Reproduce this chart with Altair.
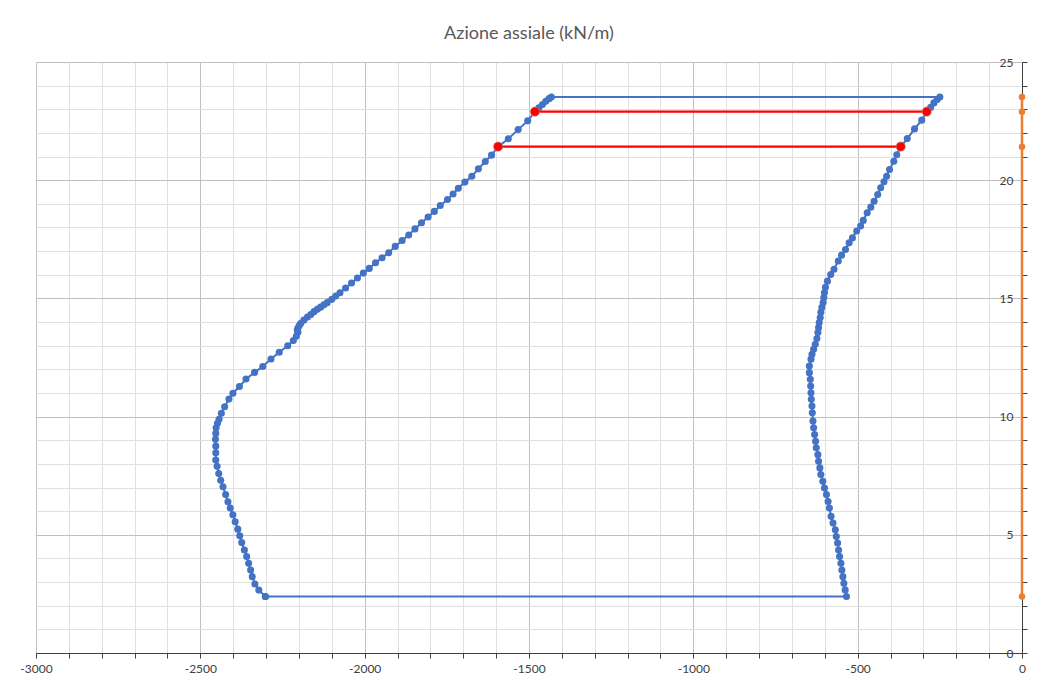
import altair as alt
import pandas as pd

# ---- data ----
# left branch (bottom -> top)
left_y = [2.39, 2.66, 2.92, 3.23, 3.51, 3.80, 4.08, 4.36, 4.67, 4.96, 5.24, 5.55, 5.85, 6.13,
          6.40, 6.70, 7.03, 7.31, 7.59, 7.90, 8.16, 8.47, 8.75, 9.04, 9.29, 9.53, 9.72, 9.89,
          10.14, 10.42, 10.74, 10.99, 11.27, 11.59, 11.87, 12.12, 12.44, 12.72, 13.00, 13.22,
          13.40, 13.57, 13.66, 13.75, 13.85, 13.94, 14.08, 14.21, 14.32, 14.44, 14.54, 14.63,
          14.73, 14.82, 14.96, 15.10, 15.24, 15.44, 15.65, 15.86, 16.07, 16.27, 16.51, 16.72,
          16.93, 17.20, 17.45, 17.68, 17.94, 18.20, 18.44, 18.68, 18.93, 19.18, 19.42, 19.66,
          19.92, 20.17, 20.48, 20.79, 21.06, 21.42, 21.75, 22.14, 22.51, 22.90, 23.06, 23.20,
          23.34, 23.45, 23.52]
left_x = [-2302, -2322, -2334, -2342, -2347, -2353, -2359, -2366, -2374, -2380, -2386, -2394,
          -2401, -2409, -2416, -2423, -2431, -2438, -2444, -2449, -2453, -2453, -2453, -2454,
          -2453, -2452, -2448, -2443, -2436, -2426, -2413, -2401, -2381, -2361, -2335, -2310,
          -2285, -2260, -2234, -2217, -2208, -2203, -2205, -2203, -2199, -2195, -2185, -2174,
          -2164, -2154, -2144, -2134, -2124, -2114, -2100, -2088, -2075, -2058, -2040, -2022,
          -2004, -1986, -1967, -1947, -1927, -1907, -1886, -1866, -1847, -1827, -1807, -1788,
          -1770, -1748, -1731, -1715, -1695, -1674, -1654, -1633, -1614, -1594, -1563, -1533,
          -1504, -1482, -1470, -1459, -1449, -1439, -1432]
# right branch (top -> bottom)
right_y = [23.52, 23.41, 23.27, 23.08, 22.90, 22.54, 22.17, 21.76, 21.42, 21.08, 20.80, 20.45,
           20.17, 19.93, 19.68, 19.39, 19.11, 18.86, 18.62, 18.30, 18.06, 17.85, 17.56, 17.35,
           17.07, 16.83, 16.58, 16.23, 16.01, 15.73, 15.47, 15.25, 15.04, 14.83, 14.62, 14.41,
           14.19, 13.98, 13.77, 13.56, 13.30, 13.06, 12.85, 12.64, 12.43, 12.14, 11.86, 11.58,
           11.29, 11.01, 10.73, 10.45, 10.16, 9.81, 9.53, 9.24, 8.96, 8.68, 8.39, 8.11, 7.83,
           7.55, 7.26, 6.98, 6.70, 6.41, 6.13, 5.78, 5.50, 5.21, 4.93, 4.65, 4.36, 4.08, 3.80,
           3.51, 3.23, 2.95, 2.67, 2.39]
right_x = [-250, -258, -268, -278, -290, -305, -327, -349, -369, -381, -390, -403, -412, -420,
           -430, -439, -450, -460, -471, -483, -491, -503, -516, -526, -537, -549, -559, -572,
           -582, -592, -598, -601, -603, -605, -609, -612, -614, -617, -619, -621, -624, -629,
           -634, -639, -642, -647, -647, -644, -643, -642, -641, -639, -638, -636, -634, -631,
           -628, -626, -621, -619, -615, -612, -606, -601, -595, -590, -586, -581, -575, -568,
           -565, -561, -558, -555, -551, -548, -545, -542, -538, -534]

red_top_x = [-1482, -290]
red_top_y = [22.90, 22.90]
red_low_x = [-1594, -369]
red_low_y = [21.42, 21.42]

orange_x = [0, 0, 0, 0]
orange_y = [2.39, 21.42, 22.90, 23.52]

x_ticks = list(range(-3000, 1, 100))
y_ticks = list(range(0, 26))

# ---- tables ----
blue_x = left_x + right_x + [left_x[0]]
blue_y = left_y + right_y + [left_y[0]]
blue_df = pd.DataFrame({"x": blue_x, "y": blue_y, "o": list(range(len(blue_x)))})
red_df = pd.DataFrame({
    "x": red_top_x + red_low_x,
    "y": red_top_y + red_low_y,
    "g": ["a"] * len(red_top_x) + ["b"] * len(red_low_x),
})
orange_df = pd.DataFrame({"x": orange_x, "y": orange_y, "o": list(range(len(orange_x)))})

FONT = "Lato"

x_axis = alt.Axis(
    values=x_ticks,
    labelExpr="datum.value % 500 === 0 ? '' + datum.value : ''",
    title=None,
    grid=True,
    gridColor={"condition": {"test": "datum.value % 500 === 0", "value": "#c0c0c0"}, "value": "#e0e0e0"},
    gridWidth=1,
    tickSize=5,
    tickColor="#404040",
    domainColor="#404040",
    labelColor="#404040",
    labelFont=FONT,
    labelFontSize=12,
    labelPadding=5,
    labelFlush=False,
    labelOverlap=False,
)
y_axis = alt.Axis(
    orient="right",
    values=y_ticks,
    labelExpr="datum.value % 5 === 0 ? '' + datum.value : ''",
    title=None,
    grid=True,
    gridColor={"condition": {"test": "datum.value % 5 === 0", "value": "#c0c0c0"}, "value": "#e0e0e0"},
    gridWidth=1,
    tickSize=5,
    tickColor="#404040",
    domainColor="#404040",
    labelColor="#404040",
    labelFont=FONT,
    labelFontSize=12,
    labelAlign="right",
    labelPadding=-14,
    labelFlush=False,
    labelOverlap=False,
)

x_enc = alt.X("x:Q", scale=alt.Scale(domain=[-3000, 0], nice=False, zero=False), axis=x_axis)
y_enc = alt.Y("y:Q", scale=alt.Scale(domain=[0, 25], nice=False, zero=False), axis=y_axis)

blue = alt.Chart(blue_df).mark_line(
    color="#4472C4", strokeWidth=2,
    point=alt.OverlayMarkDef(filled=True, size=50, color="#4472C4", opacity=1),
).encode(x=x_enc, y=y_enc, order="o:Q")

red = alt.Chart(red_df).mark_line(
    color="#FF0000", strokeWidth=2.2,
    point=alt.OverlayMarkDef(filled=True, size=85, color="#FF0000", stroke="#9a9a9a", strokeWidth=0.6, opacity=1),
).encode(x=x_enc, y=y_enc, detail="g:N")

orange = alt.Chart(orange_df).mark_line(
    color="#ED7D31", strokeWidth=2.5,
    point=alt.OverlayMarkDef(filled=True, size=42, color="#ED7D31", opacity=1),
).encode(x=x_enc, y=y_enc, order="o:Q")

chart = alt.layer(blue, red, orange).properties(
    width=986,
    height=591,
    title=alt.TitleParams(
        "Azione assiale (kN/m)", font=FONT, fontSize=18, fontWeight="normal",
        color="#595959", anchor="middle", baseline="bottom", offset=-5, frame="group",
    ),
    padding={"left": 28, "top": 54, "right": 10, "bottom": 24},
    autosize=alt.AutoSizeParams(type="none"),
).configure_view(strokeWidth=0).configure(background="white")

chart.save("out.html", embed_options={"renderer": "svg", "actions": False})
